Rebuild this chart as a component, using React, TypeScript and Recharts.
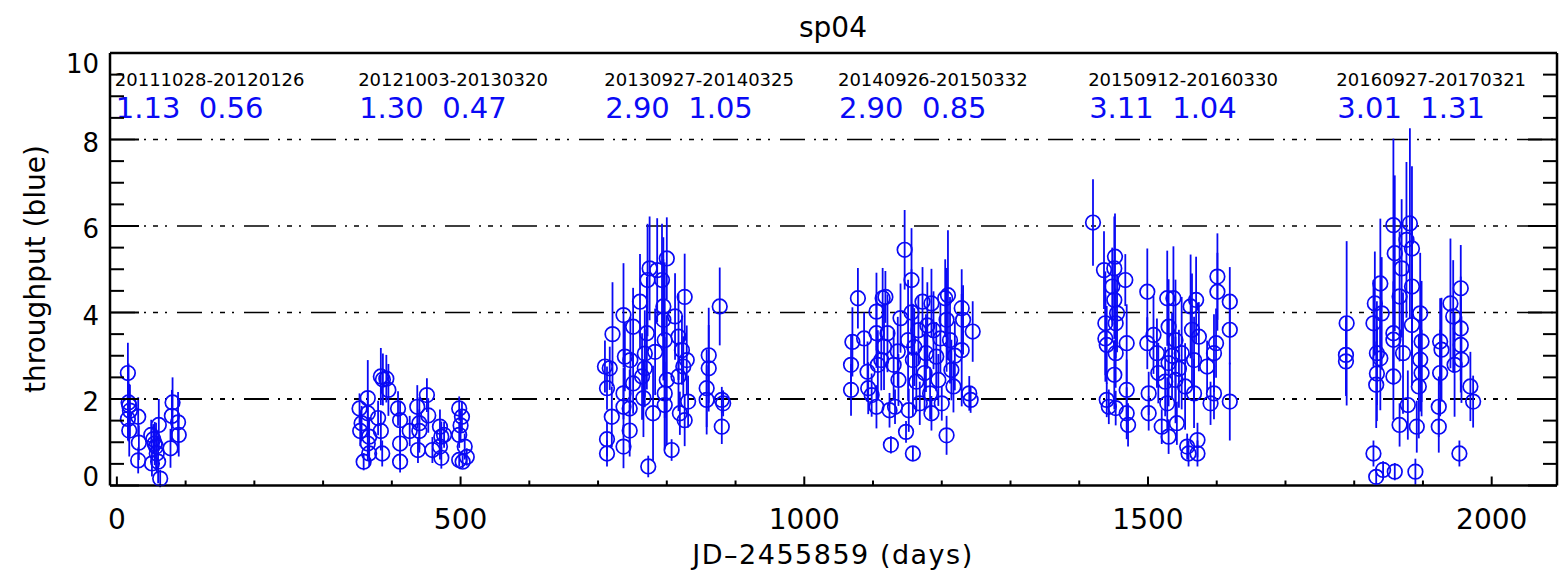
import React from "react";
import {
  ScatterChart,
  Scatter,
  XAxis,
  YAxis,
  ErrorBar,
  ReferenceLine,
  ReferenceDot,
} from "recharts";

// season 1: 20111028-20120126
const s1Days = [16, 17, 18, 19, 16, 18, 31, 32, 31, 50, 51, 53, 55, 57, 58, 60, 61, 63, 78, 81, 80, 89, 90];
const s1Tp = [2.6, 1.92, 1.85, 1.73, 1.54, 1.27, 1.59, 0.99, 0.58, 1.17, 0.51, 1.07, 0.97, 0.9, 0.74, 0.55, 1.4, 0.16, 0.86, 1.92, 1.61, 1.46, 1.17];
const s1Err = [0.7, 0.9, 0.5, 0.6, 0.5, 0.6, 0.45, 0.4, 0.3, 0.35, 0.3, 0.35, 0.5, 0.55, 0.45, 0.5, 0.6, 0.2, 0.45, 0.58, 0.6, 0.7, 0.5];

// season 2: 20121003-20130320
const s2Days = [353, 356, 354, 359, 365, 365, 367, 365, 367, 384, 387, 392, 395, 380, 384, 386, 409, 412, 412, 412, 426, 437, 440, 440, 438, 451, 453, 459, 470, 472, 470, 472, 476, 498, 502, 500, 498, 498, 503, 509, 506];
const s2Tp = [1.78, 1.44, 1.26, 0.55, 2.02, 1.67, 1.13, 0.97, 0.74, 2.52, 2.45, 2.47, 2.21, 1.56, 1.26, 0.74, 1.78, 1.51, 0.97, 0.55, 1.26, 1.82, 1.44, 1.26, 0.82, 2.09, 1.62, 0.82, 1.36, 1.13, 0.9, 0.64, 1.17, 1.78, 1.59, 1.39, 1.17, 0.59, 0.55, 0.66, 0.9];
const s2Err = [0.35, 0.4, 0.35, 0.2, 0.88, 0.5, 0.45, 0.4, 0.3, 0.66, 0.6, 0.55, 0.6, 0.4, 0.45, 0.3, 0.4, 0.45, 0.4, 0.25, 0.35, 0.5, 0.6, 0.5, 0.3, 0.39, 0.4, 0.3, 0.4, 0.35, 0.3, 0.25, 0.3, 0.28, 0.35, 0.35, 0.3, 0.15, 0.15, 0.2, 0.3];

// season 3: 20130927-20140325
const s3Days = [710, 717, 713, 720, 713, 713, 721, 737, 739, 737, 737, 737, 746, 746, 747, 751, 751, 761, 764, 766, 768, 768, 771, 772, 773, 775, 780, 783, 786, 793, 795, 795, 797, 800, 797, 800, 797, 807, 812, 817, 817, 822, 824, 826, 829, 831, 819, 826, 861, 858, 861, 858, 877, 880, 882, 880];
const s3Tp = [2.75, 2.71, 2.25, 1.59, 1.07, 0.74, 3.5, 3.94, 2.98, 2.13, 1.82, 0.9, 1.78, 1.27, 2.9, 3.67, 2.36, 4.25, 2.52, 2.02, 3.05, 2.71, 3.52, 4.75, 0.44, 5.02, 1.67, 3.09, 4.98, 4.75, 4.14, 3.83, 3.36, 2.44, 2.13, 5.25, 1.86, 0.82, 3.91, 3.44, 2.52, 3.13, 2.75, 4.36, 2.9, 1.94, 1.67, 1.51, 3.01, 2.25, 2.71, 1.98, 4.14, 1.98, 1.9, 1.36];
const s3Err = [0.6, 0.5, 0.5, 0.7, 0.4, 0.3, 1.2, 1.2, 0.8, 0.6, 0.5, 0.5, 0.9, 0.6, 1.0, 0.9, 0.7, 1.1, 1.0, 0.9, 1.0, 0.9, 1.3, 1.3, 0.25, 1.2, 1.1, 1.0, 1.2, 1.3, 1.6, 1.4, 1.8, 1.5, 1.3, 0.95, 1.0, 0.25, 1.0, 1.0, 0.8, 0.8, 0.7, 1.0, 0.8, 0.6, 0.5, 0.6, 1.1, 0.9, 1.0, 0.8, 0.9, 0.3, 0.3, 0.4];

// season 4: 20140926-20150332
const s4Days = [1068, 1068, 1070, 1078, 1087, 1092, 1093, 1098, 1105, 1105, 1105, 1107, 1112, 1114, 1116, 1118, 1121, 1124, 1126, 1130, 1132, 1136, 1137, 1140, 1146, 1148, 1151, 1152, 1156, 1158, 1156, 1158, 1160, 1163, 1166, 1168, 1172, 1175, 1177, 1179, 1183, 1185, 1185, 1188, 1192, 1195, 1198, 1200, 1205, 1207, 1209, 1207, 1212, 1214, 1217, 1219, 1229, 1231, 1229, 1245, 1240, 1242];
const s4Tp = [2.21, 2.79, 3.32, 4.33, 3.4, 2.63, 2.25, 2.09, 4.02, 3.52, 1.82, 2.79, 2.9, 4.33, 3.21, 4.36, 3.52, 1.74, 0.94, 2.79, 1.82, 3.1, 2.44, 3.87, 5.45, 1.24, 3.36, 1.74, 4.75, 0.74, 4.0, 2.9, 3.2, 2.4, 3.59, 1.9, 4.25, 2.6, 3.06, 3.7, 2.13, 1.67, 4.21, 3.59, 2.98, 2.44, 3.4, 1.9, 4.33, 3.83, 4.4, 1.16, 3.36, 2.67, 2.29, 3.0, 4.1, 3.83, 3.13, 3.56, 2.13, 1.98];
const s4Err = [0.6, 0.7, 0.8, 0.7, 0.6, 0.7, 0.6, 0.5, 0.9, 0.8, 0.5, 0.8, 0.7, 0.7, 1.0, 0.6, 0.9, 0.4, 0.2, 0.8, 0.4, 0.8, 0.6, 0.8, 0.92, 0.25, 1.4, 0.5, 1.2, 0.15, 1.0, 1.3, 0.9, 0.7, 0.8, 0.5, 0.8, 0.9, 0.9, 1.0, 0.6, 0.4, 0.8, 0.9, 0.8, 0.6, 0.8, 0.4, 0.9, 1.2, 1.5, 0.45, 1.0, 0.7, 0.6, 0.8, 0.9, 0.8, 1.3, 0.7, 0.4, 0.3];

// season 5: 20150912-20160330
const s5Days = [1420, 1436, 1438, 1438, 1440, 1440, 1443, 1452, 1451, 1448, 1451, 1453, 1453, 1451, 1455, 1453, 1467, 1469, 1469, 1469, 1471, 1499, 1499, 1501, 1501, 1508, 1513, 1515, 1520, 1525, 1528, 1530, 1530, 1528, 1530, 1535, 1537, 1540, 1540, 1542, 1545, 1549, 1554, 1557, 1562, 1564, 1567, 1570, 1567, 1572, 1572, 1559, 1574, 1586, 1596, 1596, 1591, 1601, 1601, 1599, 1619, 1619, 1619];
const s5Tp = [6.08, 4.98, 3.75, 3.4, 3.25, 1.98, 1.82, 5.29, 5.02, 4.6, 4.29, 3.75, 3.06, 2.56, 3.98, 1.79, 4.75, 3.29, 2.21, 1.67, 1.4, 4.48, 3.29, 2.13, 1.67, 3.48, 3.06, 2.6, 1.36, 2.4, 4.33, 3.67, 2.83, 1.9, 1.13, 3.0, 4.33, 3.36, 2.44, 1.44, 2.7, 3.06, 2.29, 0.9, 4.14, 3.6, 2.9, 4.29, 2.13, 1.05, 0.74, 0.74, 3.44, 2.75, 3.06, 2.13, 1.9, 4.83, 4.48, 3.29, 4.25, 3.6, 1.94];
const s5Err = [1.0, 0.9, 1.2, 1.0, 0.9, 0.4, 0.4, 1.0, 1.2, 0.9, 0.9, 0.8, 0.8, 0.8, 0.9, 0.4, 0.6, 0.9, 0.7, 0.6, 0.5, 1.0, 0.6, 0.5, 0.4, 0.9, 0.8, 0.7, 0.4, 0.8, 1.1, 1.1, 1.0, 0.6, 0.4, 1.0, 1.2, 1.4, 1.0, 0.5, 0.9, 1.3, 1.0, 0.3, 1.2, 1.3, 1.0, 1.0, 0.8, 0.4, 0.3, 0.3, 0.8, 0.6, 0.9, 0.6, 0.5, 1.0, 0.9, 0.8, 0.8, 0.8, 0.9];

// season 6: 20160927-20170321
const s6Days = [1789, 1788, 1788, 1828, 1832, 1830, 1828, 1833, 1833, 1832, 1838, 1840, 1838, 1842, 1859, 1857, 1859, 1857, 1857, 1857, 1866, 1866, 1869, 1871, 1876, 1878, 1881, 1884, 1884, 1884, 1889, 1891, 1894, 1896, 1898, 1896, 1898, 1923, 1923, 1925, 1927, 1925, 1940, 1944, 1946, 1953, 1955, 1955, 1955, 1956, 1969, 1973];
const s6Tp = [3.75, 3.02, 2.87, 0.74, 0.2, 4.21, 3.75, 3.06, 2.59, 2.33, 4.67, 3.98, 2.94, 0.36, 0.32, 6.02, 5.37, 3.52, 3.37, 2.52, 4.37, 1.4, 5.02, 3.06, 5.68, 1.86, 6.06, 5.48, 4.6, 3.71, 0.32, 1.36, 2.29, 3.98, 3.33, 2.91, 2.6, 1.82, 1.36, 3.33, 3.14, 2.6, 4.21, 3.91, 2.79, 0.74, 4.56, 3.63, 3.25, 2.91, 2.29, 1.94];
const s6Err = [1.9, 0.9, 0.8, 0.3, 0.2, 1.2, 1.0, 1.2, 1.1, 1.0, 1.5, 1.3, 1.2, 0.2, 0.2, 2.0, 1.8, 1.2, 1.0, 1.0, 1.5, 0.5, 1.6, 1.4, 1.8, 0.8, 2.2, 1.9, 1.6, 1.4, 0.3, 0.6, 1.2, 1.4, 1.4, 1.2, 1.0, 0.7, 0.6, 1.0, 1.2, 1.0, 1.5, 1.3, 1.2, 0.3, 1.0, 1.2, 1.1, 1.0, 0.8, 0.6];

// per-season annotations
const seasonLabels = ["20111028-20120126", "20121003-20130320", "20130927-20140325", "20140926-20150332", "20150912-20160330", "20160927-20170321"];
const seasonStats = ["1.13  0.56", "1.30  0.47", "2.90  1.05", "2.90  0.85", "3.11  1.04", "3.01  1.31"];
const seasonTextDays = [-3, 351, 709, 1049, 1413, 1774];

// axes
const xTicks = [0, 100, 200, 300, 400, 500, 600, 700, 800, 900, 1000, 1100, 1200, 1300, 1400, 1500, 1600, 1700, 1800, 1900, 2000];
const xMajor = [0, 500, 1000, 1500, 2000];
const yTicks = [0, 0.5, 1, 1.5, 2, 2.5, 3, 3.5, 4, 4.5, 5, 5.5, 6, 6.5, 7, 7.5, 8, 8.5, 9, 9.5, 10];
const yMajor = [0, 2, 4, 6, 8, 10];
const gridLevels = [2, 4, 6, 8];

const BLUE = "#0a0af5";
const FONT = "'DejaVu Sans', sans-serif";

const seasons = [
  [s1Days, s1Tp, s1Err],
  [s2Days, s2Tp, s2Err],
  [s3Days, s3Tp, s3Err],
  [s4Days, s4Tp, s4Err],
  [s5Days, s5Tp, s5Err],
  [s6Days, s6Tp, s6Err],
];
const data = seasons.flatMap(([d, t, e]) =>
  d.map((day, i) => ({ day, tp: t[i], err: e[i] }))
);

const LeftTick = (props: any) => {
  const { x, y, payload } = props;
  const v = payload.value;
  const major = yMajor.includes(v);
  const dy = v === 10 ? 11 : v === 0 ? -9 : 3;
  return (
    <g>
      <line x1={x} x2={x + (major ? 29 : 14)} y1={y} y2={y} stroke="#000" strokeWidth={2} />
      {major && (
        <text x={x - 11} y={y + dy} textAnchor="end" dominantBaseline="central" fontSize={26} fontFamily={FONT} fill="#000">
          {v}
        </text>
      )}
    </g>
  );
};

const RightTick = (props: any) => {
  const { x, y, payload } = props;
  const major = yMajor.includes(payload.value);
  return <line x1={x} x2={x - (major ? 29 : 14)} y1={y} y2={y} stroke="#000" strokeWidth={2} />;
};

const BottomTick = (props: any) => {
  const { x, y, payload } = props;
  const v = payload.value;
  const major = xMajor.includes(v);
  return (
    <g>
      <line x1={x} x2={x} y1={y} y2={y - (major ? 9 : 5)} stroke="#000" strokeWidth={2} />
      {major && (
        <text x={x} y={y + 34} textAnchor="middle" dominantBaseline="central" fontSize={28} fontFamily={FONT} fill="#000">
          {v}
        </text>
      )}
    </g>
  );
};

const TopTick = (props: any) => {
  const { x, y, payload } = props;
  const major = xMajor.includes(payload.value);
  return <line x1={x} x2={x} y1={y} y2={y + (major ? 9 : 5)} stroke="#000" strokeWidth={2} />;
};

const Circle = (props: any) => (
  <circle cx={props.cx} cy={props.cy} r={7.3} fill="none" stroke={BLUE} strokeWidth={1.7} />
);

export default function App() {
  const axisLine = { stroke: "#000", strokeWidth: 2.5 };
  return (
    <div style={{ position: "absolute", left: 0, top: 0, width: 1559, height: 574, background: "#fff" }}>
      <ScatterChart width={1559} height={574} margin={{ top: 52, right: 1, bottom: 28.5, left: 50 }}>
        <XAxis
          xAxisId="b"
          dataKey="day"
          type="number"
          domain={[-10, 2095]}
          allowDataOverflow
          ticks={xTicks}
          interval={0}
          height={60}
          tickSize={0}
          tickMargin={0}
          tickLine={false}
          axisLine={axisLine}
          tick={<BottomTick />}
        />
        <XAxis
          xAxisId="t"
          orientation="top"
          type="number"
          domain={[-10, 2095]}
          allowDataOverflow
          ticks={xTicks}
          interval={0}
          height={1}
          tickSize={0}
          tickMargin={0}
          tickLine={false}
          axisLine={axisLine}
          tick={<TopTick />}
        />
        <YAxis
          yAxisId="l"
          dataKey="tp"
          type="number"
          domain={[0, 10]}
          allowDataOverflow
          ticks={yTicks}
          interval={0}
          width={60}
          tickSize={0}
          tickMargin={0}
          tickLine={false}
          axisLine={axisLine}
          tick={<LeftTick />}
        />
        <YAxis
          yAxisId="r"
          orientation="right"
          type="number"
          domain={[0, 10]}
          allowDataOverflow
          ticks={yTicks}
          interval={0}
          width={1}
          tickSize={0}
          tickMargin={0}
          tickLine={false}
          axisLine={axisLine}
          tick={<RightTick />}
        />
        {gridLevels.map((lv) => (
          <ReferenceLine
            key={lv}
            xAxisId="b"
            yAxisId="l"
            y={lv}
            stroke="#000"
            strokeWidth={lv === 2 ? 2 : 1.5}
            strokeDasharray="25 9 2 7 5 7 2 10"
          />
        ))}
        <Scatter
          xAxisId="b"
          yAxisId="l"
          data={data}
          shape={<Circle />}
          isAnimationActive={false}
        >
          <ErrorBar dataKey="err" direction="y" width={0} stroke={BLUE} strokeWidth={1.8} isAnimationActive={false} />
        </Scatter>
        {seasonLabels.map((lab, i) => (
          <ReferenceDot
            key={lab}
            xAxisId="b"
            yAxisId="l"
            x={seasonTextDays[i]}
            y={9.39}
            r={0}
            stroke="none"
            fill="none"
            label={(p: any) => (
              <g>
                <text x={p.viewBox.x} y={p.viewBox.y} dominantBaseline="central" fontSize={18} fontFamily={FONT} fill="#000">
                  {lab}
                </text>
                <text
                  x={p.viewBox.x + 1}
                  y={p.viewBox.y + 29}
                  dominantBaseline="central"
                  fontSize={29}
                  fontFamily={FONT}
                  fill={BLUE}
                  style={{ whiteSpace: "pre" }}
                >
                  {seasonStats[i]}
                </text>
              </g>
            )}
          />
        ))}
      </ScatterChart>
      <svg width={1559} height={574} style={{ position: "absolute", left: 0, top: 0, pointerEvents: "none" }}>
        <text x={833} y={27} textAnchor="middle" dominantBaseline="central" fontSize={28} fontFamily={FONT} fill="#000">
          sp04
        </text>
        <text x={833} y={554} textAnchor="middle" dominantBaseline="central" fontSize={27} letterSpacing={1.5} fontFamily={FONT} fill="#000">
          JD–2455859 (days)
        </text>
        <text
          x={35}
          y={269}
          textAnchor="middle"
          dominantBaseline="central"
          fontSize={28}
          fontFamily={FONT}
          fill="#000"
          transform="rotate(-90 35 269)"
        >
          throughput (blue)
        </text>
      </svg>
    </div>
  );
}
